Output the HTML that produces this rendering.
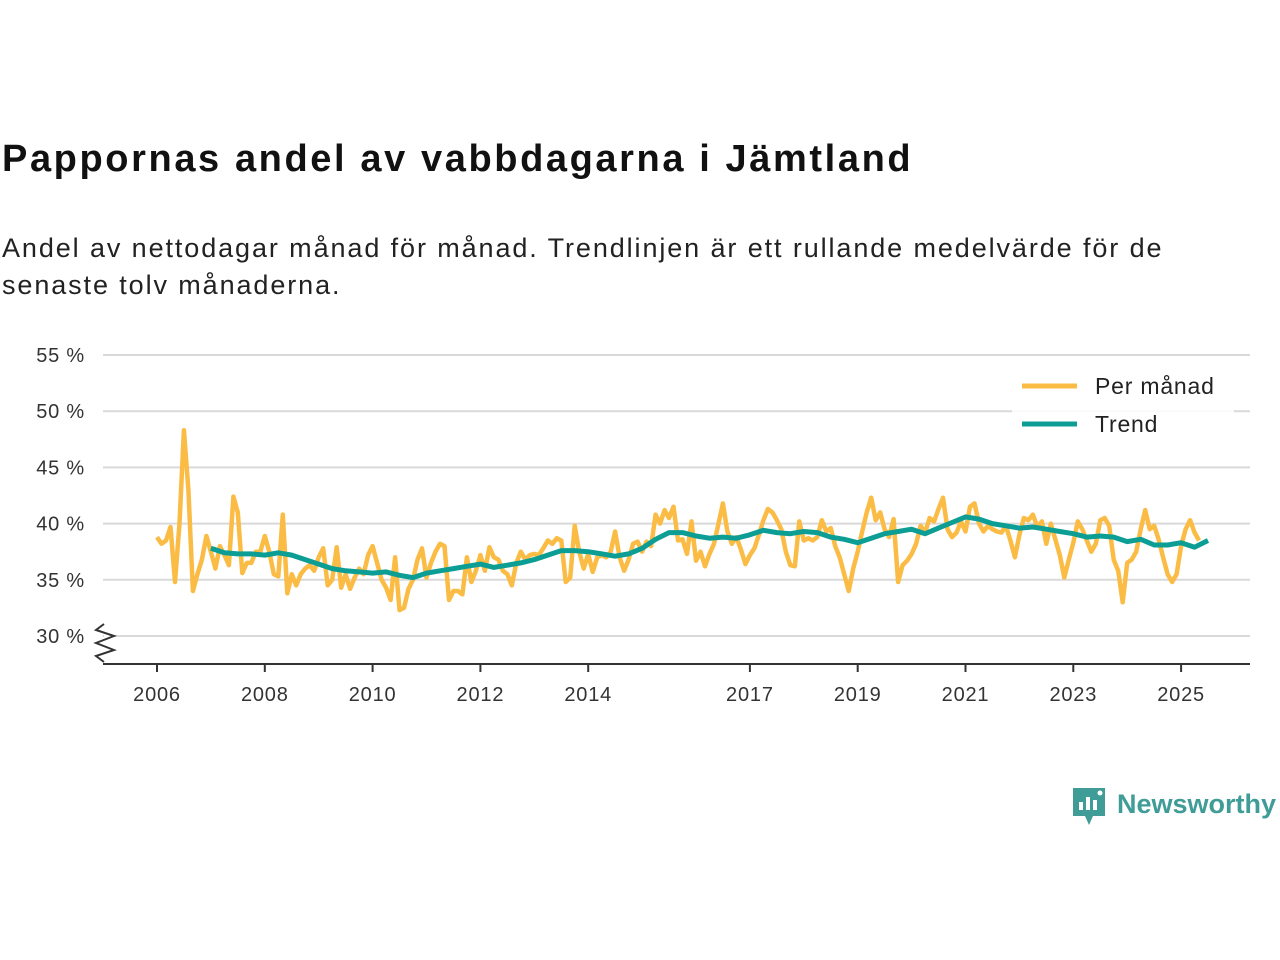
<!DOCTYPE html>
<html><head><meta charset="utf-8"><style>
body{margin:0;background:#fff;font-family:"Liberation Sans",sans-serif;}
#wrap{position:relative;width:1280px;height:960px;overflow:hidden;}
h1{position:absolute;left:2px;top:138px;margin:0;font-size:38px;font-weight:bold;color:#111;letter-spacing:2.6px}
p{position:absolute;left:2px;top:230px;margin:0;font-size:27px;line-height:37px;color:#222;width:1240px;letter-spacing:1.9px}
</style></head><body><div id="wrap">
<h1>Pappornas andel av vabbdagarna i Jämtland</h1>
<p>Andel av nettodagar månad för månad. Trendlinjen är ett rullande medelvärde för de senaste tolv månaderna.</p>
<svg id="chart" width="1280" height="960" style="position:absolute;left:0;top:0"></svg>
</div>
<script>
const startYear = 2006;
const monthly = [
38.8,38.2,38.5,39.7,34.8,40,48.3,43,34,35.5,36.8,38.9,
37.5,36,38,37.2,36.3,42.4,41,35.6,36.5,36.5,37.5,37.5,
38.9,37.5,35.5,35.3,40.8,33.8,35.5,34.5,35.5,36,36.3,35.8,
37,37.8,34.5,35,37.9,34.3,35.5,34.2,35.2,36,35.5,37.2,
38,36.5,35,34.3,33.2,37,32.3,32.5,34.2,35,36.8,37.8,
35.2,36.5,37.5,38.2,38,33.2,34,34,33.7,37,34.8,35.8,
37.2,35.8,37.9,37,36.8,35.8,35.5,34.5,36.5,37.5,36.8,37.2,
37.3,37.2,37.8,38.5,38.2,38.7,38.5,34.8,35.2,39.8,37.5,36,
37.3,35.7,37,37.2,37,37.5,39.3,37,35.8,36.8,38.2,38.4,
37.5,38.4,38,40.8,40,41.2,40.5,41.5,38.5,38.6,37.3,40.2,
36.7,37.5,36.2,37.3,38.2,40,41.8,39.3,38.2,38.8,37.7,36.4,
37.2,37.8,39,40.3,41.3,41,40.3,39.5,37.5,36.3,36.2,40.2,
38.5,38.7,38.5,38.8,40.3,39.3,39.6,38,37,35.5,34,36,
37.5,39.3,41,42.3,40.3,41,39.5,38.8,40.4,34.8,36.3,36.7,
37.3,38.2,39.8,39.2,40.5,40.2,41.3,42.3,39.5,38.8,39.2,40.2,
39.3,41.5,41.8,40,39.3,39.8,39.5,39.3,39.2,39.8,38.5,37,
39,40.5,40.3,40.8,39.7,40.2,38.2,40,38.6,37.2,35.2,36.8,
38.3,40.2,39.5,38.5,37.5,38.2,40.3,40.5,39.8,36.8,35.8,33.0,
36.5,36.8,37.5,39.5,41.2,39.5,39.8,38.6,37,35.5,34.8,35.5,
38,39.5,40.3,39.2,38.5];
const trendStart = 2007.0;
const trend = [37.8,37.4,37.3,37.3,37.2,37.4,37.2,36.8,36.4,36.0,35.8,35.7,35.6,35.7,35.4,35.2,35.6,35.8,36,36.2,36.4,36.1,36.3,36.5,36.8,37.2,37.6,37.6,37.5,37.3,37.1,37.3,37.8,38.6,39.2,39.2,38.9,38.7,38.8,38.7,39.0,39.4,39.2,39.1,39.3,39.2,38.8,38.6,38.3,38.7,39.1,39.3,39.5,39.1,39.6,40.1,40.6,40.4,40,39.8,39.6,39.7,39.5,39.3,39.1,38.8,38.9,38.8,38.4,38.6,38.1,38.1,38.3,37.9,38.5];
const yTicks = [30,35,40,45,50,55];
const xTicks = [2006,2008,2010,2012,2014,2017,2019,2021,2023,2025];
const legendLabels = ["Per månad","Trend"];

const NS="http://www.w3.org/2000/svg";
const svg=document.getElementById('chart');
const X=t=>157+(t-2006)*53.9;
const Y=v=>636-(v-30)*11.24;
function mk(tag,attrs,parent){const e=document.createElementNS(NS,tag);for(const k in attrs)e.setAttribute(k,attrs[k]);(parent||svg).appendChild(e);return e;}
yTicks.forEach(v=>{
  const l=mk('line',{x1:103,x2:1250,y1:Y(v),y2:Y(v),stroke:'#d9d9d9','stroke-width':2});
  
  
  const t=mk('text',{x:85,y:Y(v)+7,'text-anchor':'end','font-size':20,fill:'#333','font-family':'Liberation Sans, sans-serif','letter-spacing':0.8});
  t.textContent=v+' %';
  
  
});
const ax=mk('line',{x1:103,x2:1250,y1:664,y2:664,stroke:'#333','stroke-width':2});


const br=mk('path',{d:'M104,624 L96,630 L114,636 L96,643 L114,650 L96,656 L104,662',fill:'#fff',stroke:'#333','stroke-width':2});


xTicks.forEach(y=>{
  const tk=mk('line',{x1:X(y),x2:X(y),y1:664,y2:672,stroke:'#333','stroke-width':2});
  
  
  const t=mk('text',{x:X(y),y:701,'text-anchor':'middle','font-size':20,fill:'#333','font-family':'Liberation Sans, sans-serif','letter-spacing':0.8});
  t.textContent=y;
  
  
});
const mp=monthly.map((v,i)=>X(startYear+i/12).toFixed(1)+','+Y(v).toFixed(1)).join(' L');
const ml=mk('path',{d:'M'+mp,fill:'none',stroke:'#fbbc45','stroke-width':4.5,'stroke-linejoin':'round'});


const tp=trend.map((v,i)=>X(trendStart+i*0.25).toFixed(1)+','+Y(v).toFixed(1)).join(' L');
const tl=mk('path',{d:'M'+tp,fill:'none',stroke:'#0c9e94','stroke-width':5,'stroke-linejoin':'round'});


const lg=mk('rect',{x:1012,y:368,width:222,height:78,fill:'#fff','fill-opacity':0.85});


[['#fbbc45',386],['#0c9e94',424]].forEach((c,i)=>{
  const l=mk('line',{x1:1022,x2:1077,y1:c[1],y2:c[1],stroke:c[0],'stroke-width':5});
  
  
  const t=mk('text',{x:1095,y:c[1]+8,'font-size':23,fill:'#222','font-family':'Liberation Sans, sans-serif','letter-spacing':0.8});
  t.textContent=legendLabels[i];
  
  
});
const g=mk('g',{});


mk('path',{d:'M1073,788 h32 v28 h-12 l-4,9 l-4,-9 h-12 z',fill:'#3f9c96'},g);
mk('rect',{x:1079,y:802,width:4,height:8,fill:'#fff'},g);
mk('rect',{x:1086,y:797,width:4,height:13,fill:'#fff'},g);
mk('rect',{x:1093,y:800,width:4,height:10,fill:'#fff'},g);
mk('circle',{cx:1100,cy:793,r:2.5,fill:'#fff'},g);
const lt=mk('text',{x:1117,y:813,'font-size':27,'font-weight':'bold',fill:'#3f9c96','font-family':'Liberation Sans, sans-serif'},g);
lt.textContent='Newsworthy';
</script></body></html>
